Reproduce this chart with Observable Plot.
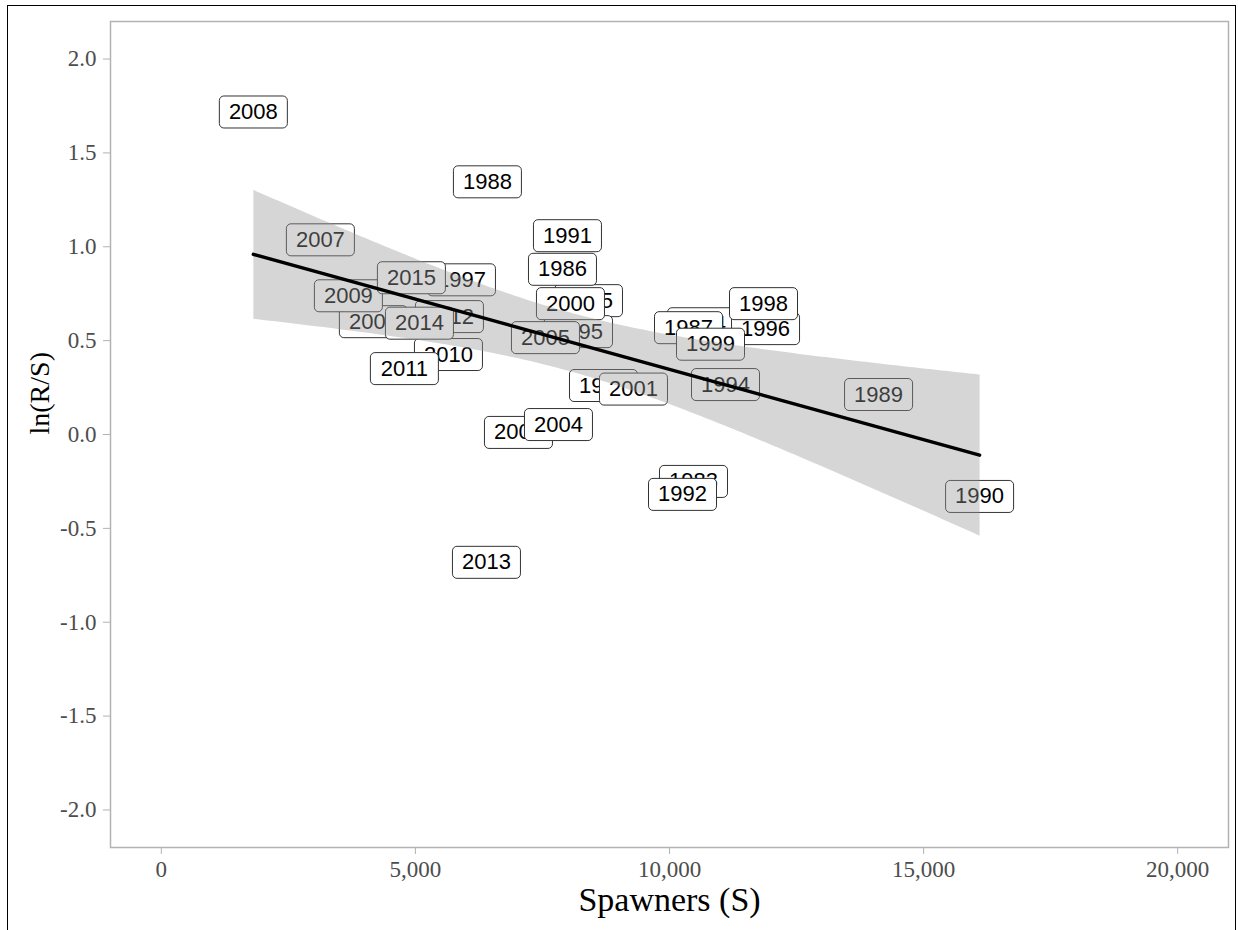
<!DOCTYPE html>
<html>
<head>
<meta charset="utf-8">
<script src="https://cdn.jsdelivr.net/npm/d3@7"></script>
<script src="https://cdn.jsdelivr.net/npm/@observablehq/plot@0.6"></script>
<style>
  html, body { margin: 0; padding: 0; background: #fff; }
  #wrap { position: relative; width: 1238px; height: 930px; overflow: hidden; }
  #border { position: absolute; left: 7px; top: 5px; width: 1229px; height: 1000px;
            border: 1.5px solid #000; box-sizing: border-box; pointer-events: none; }
</style>
</head>
<body>
<div id="wrap"><div id="border"></div></div>
<script>
// Brood years, spawners (S) and ln(R/S)
const years    = [1983, 1984, 1985, 1986, 1987, 1988, 1989, 1990, 1991, 1992, 1993, 1994, 1995, 1996, 1997, 1998, 1999, 2000, 2001, 2003, 2004, 2005, 2006, 2007, 2008, 2009, 2010, 2011, 2012, 2013, 2014, 2015];
const spawners = [10472, 10630, 8406, 7894, 10374, 6417, 14114, 16102, 7992, 10256, 8701, 11102, 8209, 11890, 5906, 11850, 10807, 8051, 9291, 7028, 7815, 7559, 4173, 3130, 1811, 3681, 5650, 4783, 5669, 6398, 5079, 4921];
const lnRS     = [-0.250, 0.590, 0.713, 0.880, 0.569, 1.346, 0.213, -0.330, 1.059, -0.319, 0.261, 0.266, 0.548, 0.564, 0.824, 0.697, 0.481, 0.697, 0.242, 0.011, 0.053, 0.516, 0.601, 1.037, 1.718, 0.739, 0.426, 0.351, 0.628, -0.681, 0.593, 0.835];

const xTicks = [0, 5000, 10000, 15000, 20000];
const yTicks = [-2.0, -1.5, -1.0, -0.5, 0.0, 0.5, 1.0, 1.5, 2.0];
const xTitle = "Spawners (S)";
const yTitle = "ln(R/S)";

const data = years.map((yr, i) => ({year: String(yr), S: spawners[i], lnRS: lnRS[i]}));

// rounded label box symbol (ggplot geom_label look)
const labelBox = {
  draw(ctx) {
    const w = 34, h = 16, r = 4.5;
    ctx.moveTo(-w + r, -h);
    ctx.lineTo(w - r, -h);
    ctx.arcTo(w, -h, w, -h + r, r);
    ctx.lineTo(w, h - r);
    ctx.arcTo(w, h, w - r, h, r);
    ctx.lineTo(-w + r, h);
    ctx.arcTo(-w, h, -w, h - r, r);
    ctx.lineTo(-w, -h + r);
    ctx.arcTo(-w, -h, -w + r, -h, r);
    ctx.closePath();
  }
};

// one box + text per datum so later labels cover earlier ones
const labelMarks = data.flatMap(d => [
  Plot.dot([d], {x: "S", y: "lnRS", symbol: labelBox, r: 5, fill: "white", stroke: "#333", strokeWidth: 1}),
  Plot.text([d], {x: "S", y: "lnRS", text: "year", fill: "black", fontSize: 22, fontFamily: "Liberation Sans, Arial, sans-serif"})
]);

const chart = Plot.plot({
  width: 1238,
  height: 930,
  marginLeft: 110,
  marginRight: 10,
  marginTop: 21,
  marginBottom: 83,
  style: {fontFamily: "Liberation Serif, Times New Roman, serif", fontSize: "23px", background: "transparent"},
  x: {domain: [-1000, 21000]},
  y: {domain: [-2.2, 2.2]},
  marks: [
    ...labelMarks,
    Plot.linearRegressionY(data, {x: "S", y: "lnRS", ci: 0.95, stroke: "black", strokeWidth: 3.5, fill: "#999", fillOpacity: 0.4}),
    Plot.frame({stroke: "#b3b3b3", strokeWidth: 1.5}),
    Plot.axisX(xTicks, {tickSize: 7, tickPadding: 6, tickFormat: d3.format(","), stroke: "#b3b3b3", fill: "#4d4d4d", fontSize: 23, label: null}),
    Plot.axisY(yTicks, {tickSize: 7, tickPadding: 7, tickFormat: d => d.toFixed(1), stroke: "#b3b3b3", fill: "#4d4d4d", fontSize: 23, label: null}),
    Plot.text([xTitle], {frameAnchor: "bottom", dy: 63, fontSize: 34, fill: "black"}),
    Plot.text([yTitle], {frameAnchor: "left", dx: -70, rotate: -90, fontSize: 28, fill: "black"})
  ]
});
document.getElementById("wrap").appendChild(chart);
chart.style.position = "absolute";
chart.style.left = "0";
chart.style.top = "0";
</script>
</body>
</html>
